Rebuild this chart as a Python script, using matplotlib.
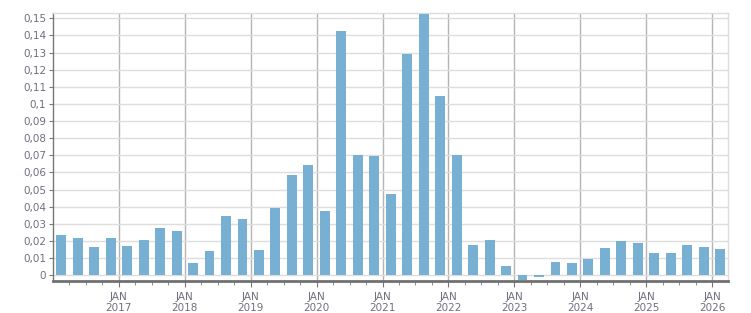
import matplotlib.pyplot as plt
from matplotlib.ticker import FixedLocator, FuncFormatter

# quarterly values, Q1 2016 .. Q1 2026
quarters = [f"{y}Q{q}" for y in range(2016, 2027) for q in range(1, 5)][:41]
values = [
    0.0234, 0.0216, 0.0164, 0.0216,
    0.0170, 0.0205, 0.0275, 0.0257,
    0.0070, 0.0140, 0.0345, 0.0327,
    0.0146, 0.0392, 0.0585, 0.0643,
    0.0374, 0.1426, 0.0701, 0.0696,
    0.0474, 0.1292, 0.1527, 0.1046,
    0.0701, 0.0175, 0.0205, 0.0053,
    -0.0029, -0.0012, 0.0076, 0.0070,
    0.0094, 0.0158, 0.0199, 0.0187,
    0.0129, 0.0129, 0.0175, 0.0164,
    0.0152,
]
years = list(range(2017, 2027))

BAR_COLOR = "#77b0d3"
TEXT_COLOR = "#6e6e7e"

fig = plt.figure(figsize=(7.51, 3.13), dpi=100)
ax = fig.add_axes([0.0706, 0.103, 0.8994, 0.8555])

x = [i + 0.5 for i in range(len(values))]
ax.bar(x, values, width=0.6, color=BAR_COLOR, zorder=3)

ax.set_xlim(0, len(values))
ax.set_ylim(-0.0033, 0.1531)

# y axis
yticks = [i / 100 for i in range(16)]
ax.yaxis.set_major_locator(FixedLocator(yticks))
ax.yaxis.set_major_formatter(
    FuncFormatter(lambda v, p: ("%g" % round(v, 2)).replace(".", ","))
)
ax.grid(axis="y", color="#dddddd", linewidth=1, zorder=0)

# x axis: JAN markers every 4 quarters, minor ticks each quarter
major = [4 * (y - 2016) for y in years]
ax.xaxis.set_major_locator(FixedLocator(major))
ax.xaxis.set_minor_locator(FixedLocator(range(1, len(values))))
ax.set_xticklabels([f"JAN\n{y}" for y in years])
ax.grid(axis="x", which="major", color="#b4b4b4", linewidth=1, zorder=1)

ax.tick_params(axis="both", colors="#777777", labelcolor=TEXT_COLOR, labelsize=7.5)
ax.tick_params(axis="x", which="major", length=4, pad=4)
ax.tick_params(axis="x", which="minor", length=3, color="#777777")
ax.tick_params(axis="y", length=3, pad=2)

for side in ["top", "right"]:
    ax.spines[side].set_color("#dddddd")
    ax.spines[side].set_linewidth(1)
ax.spines["left"].set_color("#777777")
ax.spines["left"].set_linewidth(1)
ax.spines["bottom"].set_color("#707070")
ax.spines["bottom"].set_linewidth(2)
ax.spines["bottom"].set_zorder(5)

fig.savefig("out.png", dpi=100)
